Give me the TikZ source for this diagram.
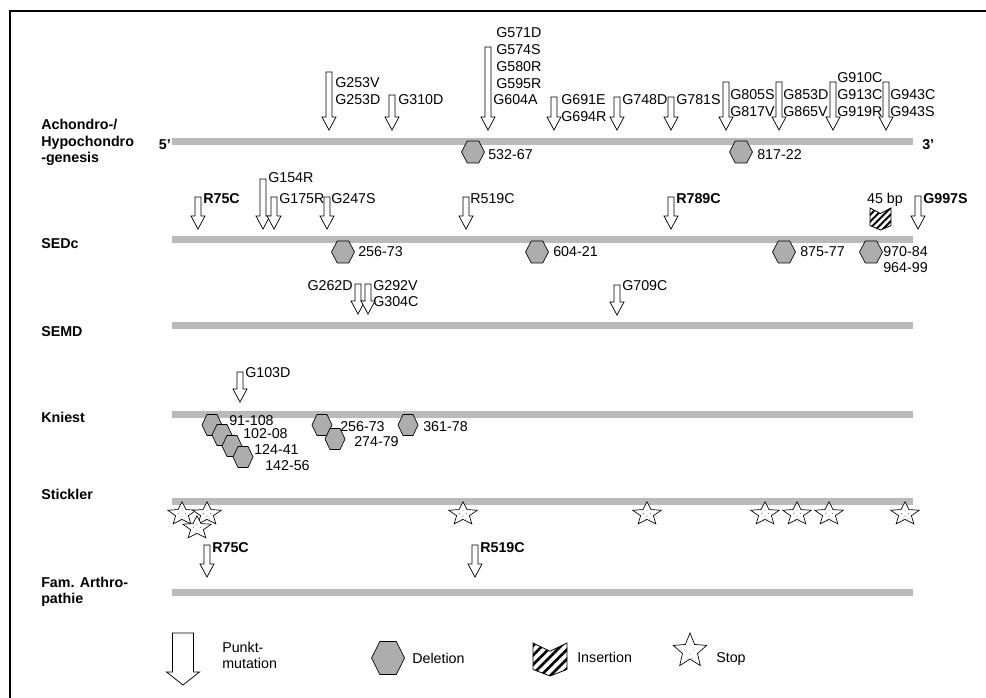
\documentclass[tikz,border=0pt]{standalone}
\usepackage{fontspec}
\setmainfont{Liberation Sans}
\usetikzlibrary{patterns.meta}
\tikzset{
 lab/.style={anchor=base west, inner sep=0pt, font=\fontsize{10.7}{12.5}\selectfont},
 labb/.style={lab, font=\fontsize{10.7}{12.5}\selectfont\bfseries},
 labe/.style={lab, anchor=base east},
 labc/.style={lab, anchor=base},
 pm/.style={draw=black, fill=white, line width=0.55pt, line join=miter},
 genebar/.style={fill=black!27, draw=none},
 del/.style={draw=black, fill=black!32, line width=0.5pt},
 ins/.style={draw=black, line width=0.6pt},
 stopstar/.style={draw=black, fill=white, line width=0.5pt, line join=miter},
}
\newcounter{lbl}
\newcommand\lab[4][lab]{\stepcounter{lbl}\node[#1] (lbl\arabic{lbl}) at (#2,#3) {#4};}
\newcommand\pmarrow[3]{\draw[pm] ({#1-3},#2) -- ({#1+3},#2) -- ({#1+3},{#3-13}) -- ({#1+7},{#3-13}) -- (#1,#3) -- ({#1-7},{#3-13}) -- ({#1-3},{#3-13}) -- cycle;}
\newcommand\hexdel[4]{\draw[del] ({#1-#3},#2) -- ({#1-#3/2},{#2-#4}) -- ({#1+#3/2},{#2-#4}) -- ({#1+#3},#2) -- ({#1+#3/2},{#2+#4}) -- ({#1-#3/2},{#2+#4}) -- cycle;}
\newcommand\stopmark[4]{%
 \begin{scope}[shift={(#1,#2)},xscale=#3,yscale=#4]
 \draw[stopstar] (-90:1) -- (-54:0.45) -- (-18:1) -- (18:0.45) -- (54:1) -- (90:0.45) -- (126:1) -- (162:0.45) -- (198:1) -- (234:0.45) -- cycle;
 \end{scope}
 \foreach \dx/\dy in {-0.22/-0.05,0.22/-0.05,0/0.18,-0.12/0.42,0.14/0.40,0/-0.32}
 \fill[black!75] ({#1+\dx*#3},{#2+\dy*#4}) circle (0.35pt);}
\newcommand\insmark[5]{% x0 y0 w h d
 \draw[ins, pattern={Lines[angle=45,distance=#5pt,line width=0.4*#5pt]}] (#1,#2) -- ({#1+#3/2},{#2+#4*0.25}) -- ({#1+#3},#2) -- ({#1+#3},{#2+#4*0.8}) -- ({#1+#3/2},{#2+#4}) -- (#1,{#2+#4*0.8}) -- cycle;}
\begin{document}
\begin{tikzpicture}[x=0.75pt,y=-0.75pt]
\useasboundingbox (0,0) rectangle (986,698);
\draw[line width=1.3pt] (10,698) -- (10,11) -- (986,11);
% gene bars
\foreach \yy in {142,240,326,415,502,592}
  \fill[genebar] (172,{\yy-3.5}) rectangle (913,{\yy+3.5});
% row labels
\lab[labb]{41}{130}{Achondro-/}
\lab[labb]{41}{147}{Hypochondro}
\lab[labb]{41}{163}{-genesis}
\lab[labb]{41}{249}{SEDc}
\lab[labb]{41}{337}{SEMD}
\lab[labb]{41}{423}{Kniest}
\lab[labb]{41}{500}{Stickler}
\lab[labb]{41}{587}{Fam. Arthro-}
\lab[labb]{41}{604}{pathie}
\node[labb, anchor=base east] (five) at (171,150) {5'};
\node[labb] (three) at (922,150) {3'};
% ---- row 1
\pmarrow{329}{72}{130}
\lab{335}{88}{G253V}\lab{335}{105}{G253D}
\pmarrow{392}{95}{130}
\lab{398}{105}{G310D}
\pmarrow{488}{47}{130}
\lab{496}{38}{G571D}\lab{496}{55}{G574S}\lab{496}{72}{G580R}\lab{496}{89}{G595R}\lab{493}{105}{G604A}
\pmarrow{554}{97}{130}
\lab{561}{105}{G691E}\lab{561}{122}{G694R}
\pmarrow{617}{97}{130}
\lab{622}{105}{G748D}
\pmarrow{671}{97}{130}
\lab{676}{105}{G781S}
\pmarrow{726}{82}{130}
\lab{730}{100}{G805S}\lab{730}{117}{G817V}
\pmarrow{779}{82}{130}
\lab{783}{100}{G853D}\lab{783}{117}{G865V}
\pmarrow{833}{82}{130}
\lab{837}{83}{G910C}\lab{837}{100}{G913C}\lab{837}{117}{G919R}
\pmarrow{886}{82}{130}
\lab{890}{100}{G943C}\lab{890}{117}{G943S}
\hexdel{473}{152}{11.5}{11}
\lab{488}{160}{532-67}
\hexdel{741}{152}{11.5}{11}
\lab{757}{160}{817-22}
% ---- row 2 SEDc
\pmarrow{198}{197}{229}
\lab[labb]{203}{204}{R75C}
\pmarrow{263}{179}{229}
\lab{268}{183}{G154R}
\pmarrow{274}{197}{229}
\lab{279}{204}{G175R}
\pmarrow{327}{197}{229}
\lab{331}{204}{G247S}
\pmarrow{466}{197}{229}
\lab{470}{204}{R519C}
\pmarrow{671}{197}{229}
\lab[labb]{676}{204}{R789C}
\pmarrow{918}{196}{229}
\lab[labb]{923}{204}{G997S}
\lab[labc]{885}{204}{45 bp}
\insmark{870}{208}{21}{22}{3.6}
\hexdel{343}{252}{11.5}{11}
\lab{358}{257}{256-73}
\hexdel{537}{252}{11.5}{11}
\lab{553}{257}{604-21}
\hexdel{784}{252}{11.5}{11}
\lab{800}{257}{875-77}
\hexdel{871}{252}{11.5}{11}
\lab{883}{257}{970-84}\lab{883}{273}{964-99}
% ---- row 3 SEMD
\pmarrow{358}{284}{314}
\lab[labe]{353}{291}{G262D}
\pmarrow{368}{284}{314}
\lab{373}{291}{G292V}\lab{373}{307}{G304C}
\pmarrow{617}{285}{315}
\lab{622}{291}{G709C}
% ---- row 4 Kniest
\pmarrow{240}{372}{402}
\lab{245}{378}{G103D}
\hexdel{212}{425}{10}{10.5}
\hexdel{222}{435}{10}{10.5}
\hexdel{232}{446}{10}{10.5}
\hexdel{243}{457}{10}{10.5}
\hexdel{322}{425}{10}{10.5}
\hexdel{335}{439}{10}{10.5}
\hexdel{408}{425}{10}{10.5}
\lab{229}{426}{91-108}
\lab{243}{439}{102-08}
\lab{254}{455}{124-41}
\lab{265}{471}{142-56}
\lab{340}{432}{256-73}
\lab{354}{447}{274-79}
\lab{423}{432}{361-78}
% ---- row 5 Stickler
\stopmark{182}{514}{15}{12.2}
\stopmark{207}{514}{15}{12.2}
\stopmark{197}{528}{15}{12.2}
\stopmark{463}{514}{15}{12.2}
\stopmark{647}{514}{15}{12.2}
\stopmark{765}{514}{15}{12.2}
\stopmark{797}{514}{15}{12.2}
\stopmark{829}{514}{15}{12.2}
\stopmark{905}{514}{15}{12.2}
% ---- row 6 Fam. Arthropathie
\pmarrow{207}{545}{577}
\lab[labb]{212}{553}{R75C}
\pmarrow{475}{545}{577}
\lab[labb]{480}{553}{R519C}
% ---- legend
\draw[pm] (172.5,633) -- (193.5,633) -- (193.5,672) -- (199.5,672) -- (183,685) -- (166.5,672) -- (172.5,672) -- cycle;
\lab{222}{652}{Punkt-}
\lab{222}{668}{mutation}
\hexdel{388}{658}{16.5}{16.5}
\lab{412}{663}{Deletion}
\insmark{533}{643}{34}{33}{5}
\lab{577}{662}{Insertion}
\stopmark{690}{651}{17.5}{18}
\lab{716}{662}{Stop}
\end{tikzpicture}
\end{document}
